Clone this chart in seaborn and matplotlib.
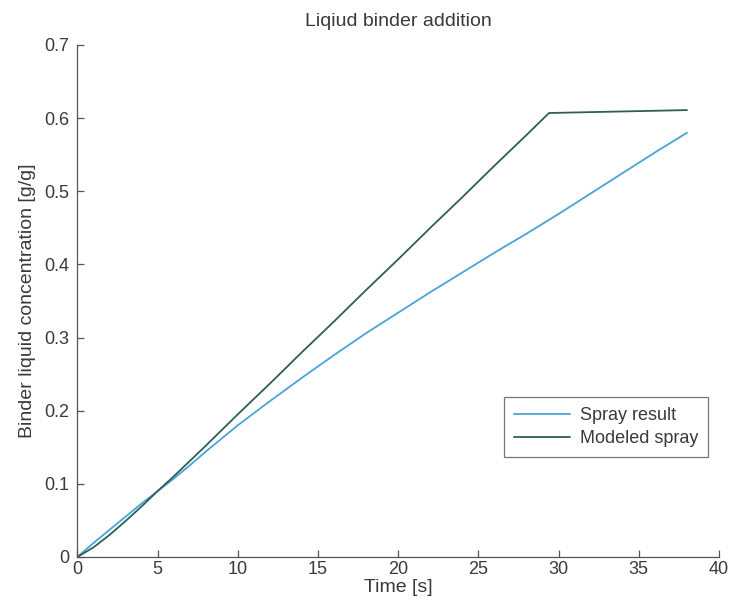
import numpy as np
import pandas as pd
import matplotlib
matplotlib.use("Agg")
import matplotlib.pyplot as plt
import seaborn as sns

# Measured spray concentration over time
spray_time = [0, 1, 2, 3, 4, 5, 6, 7, 8, 9, 10, 12, 14, 16, 18, 20,
              22, 24, 26, 28, 30, 32, 34, 36, 38]
spray_conc = [0, 0.019, 0.037, 0.055, 0.073, 0.090, 0.107, 0.125, 0.144,
              0.162, 0.180, 0.213, 0.245, 0.276, 0.306, 0.334, 0.362,
              0.389, 0.416, 0.442, 0.469, 0.497, 0.525, 0.553, 0.580]

# Model prediction of the spray
model_time = [0, 1, 2, 3, 4, 5, 6, 7, 8, 10, 12, 14, 16, 18, 20, 22, 24,
              26, 28, 29.4, 38]
model_conc = [0, 0.013, 0.030, 0.049, 0.069, 0.090, 0.110, 0.131, 0.152,
              0.195, 0.237, 0.280, 0.322, 0.365, 0.407, 0.450, 0.492,
              0.535, 0.577, 0.607, 0.611]

x_ticks = [0, 5, 10, 15, 20, 25, 30, 35, 40]
y_ticks = [0, 0.1, 0.2, 0.3, 0.4, 0.5, 0.6, 0.7]
y_tick_labels = ["0", "0.1", "0.2", "0.3", "0.4", "0.5", "0.6", "0.7"]

sns.set_style("ticks")
plt.rcParams["font.family"] = ["Liberation Sans", "DejaVu Sans"]
text_color = "#3a3a3a"

spray_df = pd.DataFrame({"Time": spray_time, "Conc": spray_conc})
model_df = pd.DataFrame({"Time": model_time, "Conc": model_conc})

fig = plt.figure(figsize=(7.3, 6.08), dpi=100)
ax = fig.add_axes([0.106, 0.084, 0.879, 0.842])

sns.lineplot(data=spray_df, x="Time", y="Conc", ax=ax, color="#4aa3d8",
             linewidth=1.3, label="Spray result")
sns.lineplot(data=model_df, x="Time", y="Conc", ax=ax, color="#2e5e58",
             linewidth=1.3, label="Modeled spray")

ax.set_xlim(0, 40)
ax.set_ylim(0, 0.7)
ax.set_xticks(x_ticks)
ax.set_xticklabels([str(t) for t in x_ticks])
ax.set_yticks(y_ticks)
ax.set_yticklabels(y_tick_labels)

for side in ("top", "right"):
    ax.spines[side].set_visible(False)
for side in ("left", "bottom"):
    ax.spines[side].set_color("#555555")
    ax.spines[side].set_linewidth(0.9)

ax.tick_params(bottom=True, left=True, direction="in", length=5, width=0.9,
               color="#555555", labelsize=13, labelcolor=text_color, pad=6)
ax.tick_params(axis="x", pad=3)

ax.set_xlabel("Time [s]", fontsize=14, color=text_color, labelpad=1)
ax.set_ylabel("Binder liquid concentration [g/g]", fontsize=14,
              color=text_color, labelpad=6)
ax.set_title("Liqiud binder addition", fontsize=14, color=text_color, pad=14)

leg = ax.legend(loc="lower right", bbox_to_anchor=(0.983, 0.195),
                frameon=True, fancybox=False, fontsize=13,
                handlelength=3.1, handletextpad=0.55, borderpad=0.55,
                labelspacing=0.35, borderaxespad=0, edgecolor="#555555")
leg.get_frame().set_linewidth(0.9)
for t in leg.get_texts():
    t.set_color(text_color)

fig.savefig("out.png", dpi=100)
